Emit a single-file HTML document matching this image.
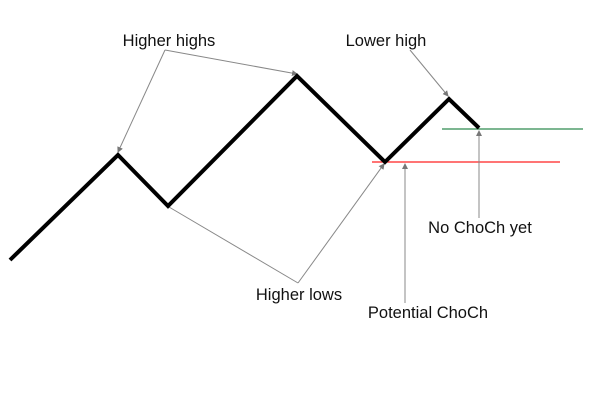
<!DOCTYPE html>
<html><head><style>body{margin:0;background:#fff}svg text{font-family:"Liberation Sans",sans-serif;font-size:16.5px;fill:#111}</style></head>
<body><svg width="600" height="400" viewBox="0 0 600 400" xmlns="http://www.w3.org/2000/svg">
<defs><marker id="a" markerWidth="6" markerHeight="6" refX="5" refY="3" orient="auto"><path d="M0,0L6,3L0,6z" fill="#777"/></marker></defs>
<line x1="442" y1="129" x2="583" y2="129" stroke="#2e8b4f" stroke-width="1.3"/>
<line x1="372" y1="162" x2="560" y2="162" stroke="#f22" stroke-width="1.3"/>
<g stroke="#888" stroke-width="1" fill="none">
<line x1="165" y1="50" x2="118" y2="152" marker-end="url(#a)"/>
<line x1="165" y1="50" x2="297" y2="74" marker-end="url(#a)"/>
<line x1="410" y1="50" x2="448" y2="96" marker-end="url(#a)"/>
<line x1="298" y1="283" x2="169" y2="207"/>
<line x1="298" y1="283" x2="384" y2="164" marker-end="url(#a)"/>
<line x1="405" y1="303" x2="405" y2="164" marker-end="url(#a)"/>
<line x1="479" y1="218" x2="479" y2="131" marker-end="url(#a)"/>
</g>
<polyline points="10,260 118,155 168,206 297,76 385,162 449,99 479,128" fill="none" stroke="#000" stroke-width="4"/>
<text x="169" y="46" text-anchor="middle">Higher highs</text>
<text x="386" y="46" text-anchor="middle">Lower high</text>
<text x="299" y="300" text-anchor="middle">Higher lows</text>
<text x="428" y="318" text-anchor="middle">Potential ChoCh</text>
<text x="480" y="233" text-anchor="middle">No ChoCh yet</text>
</svg></body></html>
